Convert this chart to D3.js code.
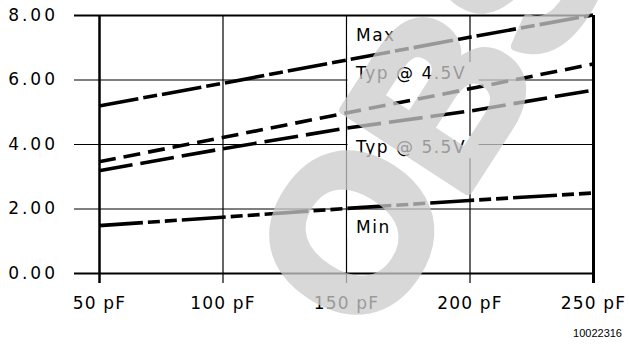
<!DOCTYPE html>
<html>
<head>
<meta charset="utf-8">
<script src="https://cdn.jsdelivr.net/npm/d3@7"></script>
<style>
  html, body { margin: 0; padding: 0; background: #fff; }
  svg { display: block; }
</style>
</head>
<body>
<div id="chart"></div>
<script>
// Load capacitance (pF) on x, delay (ns) on y
const capValues = [50, 100, 150, 200, 250];
const capLabels = ['50 pF', '100 pF', '150 pF', '200 pF', '250 pF'];
const yTicks = [0, 2, 4, 6, 8];
const yTickLabels = ['0.00', '2.00', '4.00', '6.00', '8.00'];

const maxDelay = [5.18, 5.88, 6.60, 7.31, 8.00];
const typ45Delay = [3.45, 4.20, 4.96, 5.71, 6.48];
const typ55Delay = [3.17, 3.85, 4.49, 5.02, 5.67];
const minDelay = [1.47, 1.73, 2.00, 2.25, 2.48];

const seriesNames = ['Max', 'Typ @ 4.5V', 'Typ @ 5.5V', 'Min'];
const figureId = '10022316';

const W = 629, H = 344;
const margin = { top: 15, right: 36, bottom: 71, left: 99 };
const gridLeft = 74;

const svg = d3.select('#chart').append('svg')
    .attr('width', W)
    .attr('height', H);

const x = d3.scaleLinear().domain([50, 250]).range([margin.left, W - margin.right]);
const y = d3.scaleLinear().domain([0, 8]).range([H - margin.bottom, margin.top]);

const plotRight = x(250);
const plotBottom = y(0);

// horizontal grid + y labels (axis sits on right border, ticks run left to x=74)
const yAxis = svg.append('g')
    .attr('transform', `translate(${plotRight},0)`)
    .call(d3.axisLeft(y)
        .tickValues(yTicks)
        .tickFormat((d, i) => yTickLabels[i])
        .tickSize(plotRight - gridLeft)
        .tickSizeOuter(0)
        .tickPadding(19));
yAxis.select('.domain').attr('stroke', '#000').attr('stroke-width', 3);
yAxis.selectAll('.tick line')
    .attr('stroke', '#000')
    .attr('stroke-width', d => (d === 8 || d === 0) ? 2 : 1.2);
yAxis.selectAll('.tick text')
    .attr('fill', '#000')
    .attr('font-family', '"DejaVu Sans", sans-serif')
    .attr('font-size', 17)
    .attr('letter-spacing', 3)
    .attr('dx', 3);

// vertical grid + x labels
const xAxis = svg.append('g')
    .attr('transform', `translate(0,${plotBottom + 10})`)
    .call(d3.axisBottom(x)
        .tickValues(capValues)
        .tickFormat((d, i) => capLabels[i])
        .tickSize(-(plotBottom + 10 - margin.top))
        .tickSizeOuter(0)
        .tickPadding(11));
xAxis.select('.domain').remove();
xAxis.selectAll('.tick line')
    .attr('stroke', '#000')
    .attr('stroke-width', d => d === 50 ? 2.5 : (d === 250 ? 3 : 1.2));
xAxis.selectAll('.tick text')
    .attr('fill', '#000')
    .attr('font-family', '"DejaVu Sans", sans-serif')
    .attr('font-size', 17)
    .attr('letter-spacing', 1.2)
    .attr('dy', '0.9em');

// curve labels with white boxes behind them
const labelAnchor = [7.38, 6.2, 3.9, 1.43];
const labelG = svg.append('g');
seriesNames.forEach((name, i) => {
    const t = labelG.append('text')
        .attr('x', x(150) + 10)
        .attr('y', y(labelAnchor[i]))
        .attr('dy', '0.35em')
        .attr('font-family', '"DejaVu Sans", sans-serif')
        .attr('font-size', 17)
        .attr('letter-spacing', 1.5)
        .attr('fill', '#000')
        .text(name);
    const bb = t.node().getBBox();
    labelG.insert('rect', 'text')
        .attr('x', x(150) + 1.5)
        .attr('y', bb.y - 1)
        .attr('width', bb.width + 20)
        .attr('height', bb.height + 2)
        .attr('fill', '#fff');
});

// series lines
const series = [
    { values: maxDelay, dash: '40,5,14,5' },
    { values: typ45Delay, dash: '17,8' },
    { values: typ55Delay, dash: '34,8' },
    { values: minDelay, dash: '44,5,12,5,12,5' }
];
const line = d3.line()
    .x((d, i) => x(capValues[i]))
    .y(d => y(d));
svg.append('g').selectAll('path')
    .data(series)
    .join('path')
    .attr('d', d => line(d.values))
    .attr('fill', 'none')
    .attr('stroke', '#000')
    .attr('stroke-width', 3.6)
    .attr('stroke-dasharray', d => d.dash);

// figure number
svg.append('text')
    .attr('x', 622)
    .attr('y', 337)
    .attr('text-anchor', 'end')
    .attr('font-family', '"Liberation Sans", Arial, sans-serif')
    .attr('font-size', 11)
    .attr('fill', '#000')
    .text(figureId);

// "OBSOLETE" watermark over everything
svg.append('g')
    .attr('opacity', 0.75)
    .attr('transform', 'translate(349,230) rotate(-57)')
    .append('text')
    .attr('x', -84)
    .attr('y', 78)
    .attr('font-family', '"Liberation Sans", Arial, sans-serif')
    .attr('font-weight', 'bold')
    .attr('font-size', 215)
    .attr('fill', 'rgb(203,203,203)')
    .attr('stroke', 'rgb(203,203,203)')
    .attr('stroke-width', 9)
    .attr('stroke-linejoin', 'round')
    .text('OBSOLETE');
</script>
</body>
</html>
